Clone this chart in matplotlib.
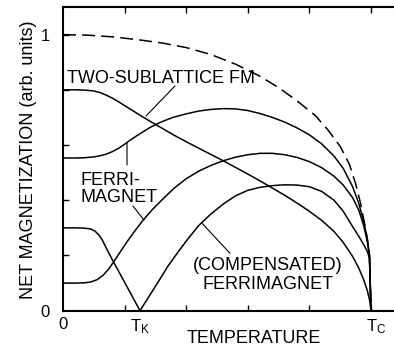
import matplotlib
matplotlib.use('Agg')
import matplotlib.pyplot as plt
import numpy

plt.rcParams['font.family'] = ['Liberation Sans', 'DejaVu Sans']
plt.rcParams['mathtext.fontset'] = 'custom'
plt.rcParams['mathtext.rm'] = 'Liberation Sans'

#--------------------------#
#
#  Values (T in units where Tc = 5)
#
# dashed curve (ferromagnet, upper bound)
T_dash = [0.0, 0.4, 0.8, 1.2, 1.6, 2.0, 2.4, 2.8, 3.2, 3.5, 3.8, 4.1, 4.3, 4.5, 4.65, 4.75,
          4.83, 4.9, 4.94, 4.975, 5.0]
M_dash = [1.0, 0.998, 0.992, 0.982, 0.970, 0.953, 0.928, 0.893, 0.849, 0.808, 0.760, 0.706, 0.655, 0.595, 0.530, 0.46,
          0.39, 0.31, 0.26, 0.20, 0.0]

# two-sublattice FM (starts at 0.8)
T_fm = [0.0, 0.2, 0.35, 0.5, 0.6, 0.7, 0.8, 0.9, 1.0, 1.1, 1.2, 1.3, 1.4, 1.5, 1.6, 1.7, 1.8,
        2.0, 2.2, 2.4, 2.6, 2.8, 3.0, 3.2, 3.4, 3.6, 3.8, 4.0, 4.2, 4.4, 4.55, 4.7, 4.8, 4.88, 4.94, 4.98, 5.0]
M_fm = [0.800, 0.800, 0.799, 0.796, 0.790, 0.781, 0.770, 0.757, 0.743, 0.729, 0.715, 0.701, 0.688, 0.675, 0.662, 0.649, 0.636,
        0.612, 0.589, 0.566, 0.543, 0.519, 0.495, 0.470, 0.444, 0.418, 0.390, 0.360, 0.327, 0.287, 0.247, 0.197, 0.155, 0.113, 0.073, 0.035, 0.0]

# ferrimagnet starting at 0.55
T_fi1 = [0.0, 0.2, 0.35, 0.5, 0.6, 0.7, 0.8, 0.9, 1.0, 1.1, 1.2, 1.3, 1.4, 1.5, 1.6, 1.7, 1.8,
         2.0, 2.2, 2.4, 2.6, 2.8, 3.0, 3.2, 3.4, 3.6, 3.8, 4.0, 4.2, 4.4, 4.55, 4.7, 4.8, 4.88, 4.94, 4.975, 5.0]
M_fi1 = [0.553, 0.553, 0.554, 0.557, 0.561, 0.567, 0.576, 0.588, 0.603, 0.619, 0.634, 0.648, 0.662, 0.674, 0.684, 0.693, 0.701,
         0.713, 0.723, 0.729, 0.732, 0.731, 0.725, 0.714, 0.700, 0.683, 0.662, 0.637, 0.604, 0.560, 0.515, 0.450, 0.390, 0.325, 0.26, 0.20, 0.0]

# ferrimagnet starting at 0.1
T_fi2 = [0.0, 0.2, 0.35, 0.45, 0.55, 0.65, 0.75, 0.85, 0.95, 1.05, 1.15, 1.3, 1.45, 1.6, 1.8,
         2.0, 2.2, 2.4, 2.6, 2.8, 3.0, 3.2, 3.4, 3.6, 3.8, 4.0, 4.2, 4.4, 4.55, 4.7, 4.8, 4.88, 4.94, 4.975, 5.0]
M_fi2 = [0.100, 0.100, 0.101, 0.104, 0.112, 0.128, 0.153, 0.186, 0.220, 0.253, 0.284, 0.328, 0.366, 0.400, 0.443,
         0.478, 0.505, 0.526, 0.543, 0.556, 0.565, 0.570, 0.570, 0.565, 0.555, 0.540, 0.518, 0.487, 0.455, 0.410, 0.365, 0.31, 0.25, 0.20, 0.0]

# compensated ferrimagnet (starts at 0.3, zero at T_K)
T_comp = [0.0, 0.2, 0.35, 0.45, 0.52, 0.58, 0.64, 0.7, 0.8, 0.9, 1.0, 1.1, 1.25,
          1.4, 1.55, 1.7, 1.85, 2.0, 2.2, 2.4, 2.6, 2.8, 3.0, 3.2, 3.4, 3.6, 3.8,
          4.0, 4.2, 4.4, 4.55, 4.7, 4.8, 4.88, 4.94, 4.975, 5.0]
M_comp = [0.300, 0.300, 0.299, 0.296, 0.288, 0.275, 0.255, 0.228, 0.185, 0.144, 0.103, 0.062, 0.0,
          0.053, 0.106, 0.160, 0.207, 0.252, 0.308, 0.350, 0.386, 0.416, 0.436, 0.447, 0.453, 0.456, 0.455,
          0.449, 0.432, 0.400, 0.360, 0.305, 0.270, 0.24, 0.215, 0.19, 0.0]

x_major = [1, 2, 3, 4, 5]
x_label_pos = [0, 1.25, 5.08]
x_labels = ['0', r'$\mathrm{T_K}$', r'$\mathrm{T_C}$']
y_major = [0.2, 0.4, 0.6, 0.8, 1.0]
y_label_pos = [0, 1]
y_labels = ['0', '1']

#--------------------------#
#
#  Figure
#
fig = plt.figure(figsize=(3.94, 3.49), dpi=100)
ax = fig.add_axes([63/394., 38.3/349., 338.8/394., 303.7/349.])

lw = 1.1
ax.plot(T_dash, M_dash, 'k', linewidth=lw, dashes=(8.5, 4.0))
ax.plot(T_fm, M_fm, 'k', linewidth=lw)
ax.plot(T_fi1, M_fi1, 'k', linewidth=lw)
ax.plot(T_fi2, M_fi2, 'k', linewidth=lw)
ax.plot(T_comp, M_comp, 'k', linewidth=lw)

ax.set_xlim(0, 5.5)
ax.set_ylim(0, 1.1)
for s in ax.spines.values():
    s.set_linewidth(1.5)

ax.xaxis.remove_overlapping_locs = False
ax.yaxis.remove_overlapping_locs = False
ax.set_xticks(x_major)
ax.set_xticklabels([])
ax.set_xticks(x_label_pos, x_labels, minor=True)
ax.set_yticks(y_major)
ax.set_yticklabels([])
ax.set_yticks(y_label_pos, y_labels, minor=True)
ax.tick_params(which='major', direction='in', top=True, length=4, width=1)
ax.tick_params(which='minor', length=0, labelsize=12)
ax.tick_params(axis='x', which='minor', pad=4.5)
ax.tick_params(axis='y', which='minor', pad=9.5)

ax.set_xlabel('TEMPERATURE', fontsize=13)
ax.xaxis.set_label_coords(0.562, -0.062)
ax.set_ylabel('NET MAGNETIZATION (arb. units)', fontsize=13)
ax.yaxis.set_label_coords(-0.077, 0.496)

#--------------------------#
#
#  Labels with leader lines
#
ax.text(0.065, 0.841, 'TWO-SUBLATTICE FM', fontsize=13, ha='left', va='center')
ax.text(0.29, 0.441, 'FERRI-\nMAGNET', fontsize=13, ha='left', va='center', linespacing=1.0)
ax.text(3.32, 0.129, '(COMPENSATED)\nFERRIMAGNET', fontsize=13, ha='center', va='center', linespacing=1.15)

lead = dict(arrowstyle='-', linewidth=0.8, shrinkA=0, shrinkB=0, color='k')
ax.annotate('', xy=(1.347, 0.705), xytext=(1.818, 0.814), arrowprops=lead)
ax.annotate('', xy=(1.039, 0.607), xytext=(1.039, 0.528), arrowprops=lead)
ax.annotate('', xy=(1.315, 0.328), xytext=(1.136, 0.379), arrowprops=lead)
ax.annotate('', xy=(2.256, 0.317), xytext=(2.711, 0.208), arrowprops=lead)

plt.savefig('out.png', dpi=100)
